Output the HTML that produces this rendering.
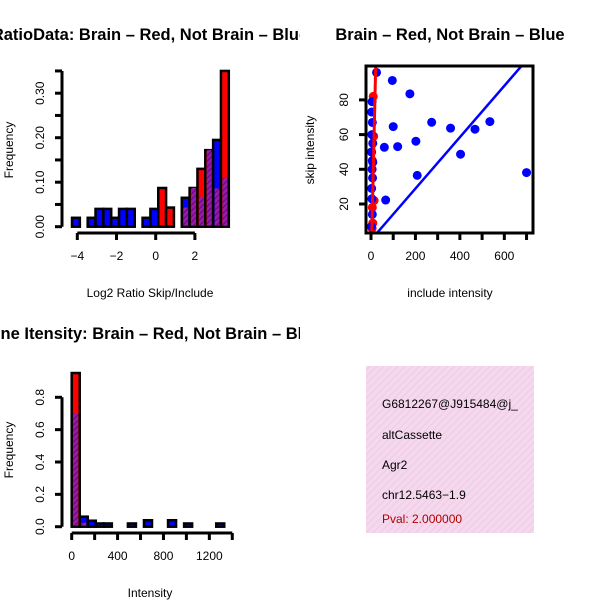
<!DOCTYPE html>
<html><head><meta charset="utf-8"><style>
html,body{margin:0;padding:0;background:#fff;}
svg{display:block;font-family:"Liberation Sans",Arial,sans-serif;}
</style></head><body>
<svg id="c" width="600" height="600" viewBox="0 0 600 600" xmlns="http://www.w3.org/2000/svg">
<defs>
<pattern id="hatch" patternUnits="userSpaceOnUse" width="4" height="4" patternTransform="rotate(45)">
<rect width="4" height="4" fill="#9a1aa6"/><line x1="0" y1="0" x2="0" y2="4" stroke="#5a0a80" stroke-width="2"/>
</pattern>
<pattern id="pink" patternUnits="userSpaceOnUse" width="5" height="5" patternTransform="rotate(45)">
<rect width="5" height="5" fill="#f7d6f0"/><line x1="0" y1="0" x2="0" y2="5" stroke="#e0d0d6" stroke-width="1.6"/>
</pattern>
<clipPath id="clip2"><rect x="366" y="66" width="167" height="167"/></clipPath>
<clipPath id="clip4"><rect x="366" y="366" width="168" height="167"/></clipPath>
<clipPath id="clipL"><rect x="0" y="0" width="300" height="600"/></clipPath>
</defs>
<g id="p1"></g>
<g id="p2"></g>
<g id="p3"></g>
<g id="p4">
<rect x="366" y="366" width="168" height="167" fill="url(#pink)"/>
<g clip-path="url(#clip4)" font-size="12">
<text x="382" y="408">G6812267@J915484@j_</text>
<text x="382" y="439">altCassette</text>
<text x="382" y="469">Agr2</text>
<text x="382" y="499">chr12.5463−1.9</text>
<text x="382" y="523" fill="#b00000">Pval: 2.000000</text>
</g>
</g>
</svg>
<script>
// Plot 1 data
const ratioBinStart = -4.27, ratioBinWidth = 0.4;
const ratioBlue = [0.02,0,0.02,0.04,0.04,0.02,0.04,0.04,0,0.02,0.04,0,0,0,0.065,0.087,0.067,0.172,0.195,0.109];
const ratioRed  = [0,0,0,0,0,0,0,0,0,0,0,0.087,0.043,0,0.043,0.087,0.13,0.172,0.086,0.35];
const ratioYTicks = [0,0.05,0.10,0.15,0.20,0.25,0.30,0.35];
const ratioYLabels = ["0.00","","0.10","","0.20","","0.30",""];
const ratioXTicks = [-4,-2,0,2];
// Plot 2 data
const scatterBlueX = [25,96,175,273,358,535,468,403,700,100,202,120,60,208,66,5,3,6,4,8,2,6,5,7,3,4,6,2,8];
const scatterBlueY = [95.8,91.2,83.5,67.1,63.7,67.5,63.1,48.7,38.1,64.6,56.2,53.1,52.7,36.5,22.3,79,73,67,60,55,50,45,40,35,29,23,14,7,44];
const scatterRedX = [10,12,14,6,8,5,3];
const scatterRedY = [82,59,22,18,9,6,50];
const blueLine = [-0.7, 0.148];
const redLine = [-16.5, 5.5];
const scatterXTicks = [0,100,200,300,400,500,600,700];
const scatterXLabels = ["0","","200","","400","","600",""];
const scatterYTicks = [20,40,60,80];
// Plot 3 data
const intBinWidth = 70;
const intBlue = [0.70,0.062,0.037,0.02,0.02,0,0,0.02,0,0.04,0,0,0.04,0,0.02,0,0,0,0.02];
const intRed  = [0.95,0.025,0,0,0,0,0,0,0,0,0,0,0,0,0,0,0,0,0];
const intYTicks = [0,0.2,0.4,0.6,0.8];
const intYLabels = ["0.0","0.2","0.4","0.6","0.8"];
const intXTicks = [0,200,400,600,800,1000,1200,1400];
const intXLabels = ["0","","400","","800","","1200",""];

const NS="http://www.w3.org/2000/svg";
function mk(parent,tag,attrs,txt){const e=document.createElementNS(NS,tag);for(const k in attrs)e.setAttribute(k,attrs[k]);if(txt!==undefined)e.textContent=txt;parent.appendChild(e);return e;}

function histogram(g, xs, ys, binStart, binW, blue, red, name){
  for(let i=0;i<blue.length;i++){
    const x0=xs(binStart+i*binW), x1=xs(binStart+(i+1)*binW);
    const b=blue[i], r=red[i], lo=Math.min(b,r), hi=Math.max(b,r);
    if(hi<=0) continue;
    const col = b>r?"#0000ff":"#ff0000";
    const o=mk(g,"rect",{x:x0,y:ys(hi),width:x1-x0,height:ys(0)-ys(hi),fill:col,stroke:"#000","stroke-width":2.5});
    
    
    if(lo>0){
      const p=mk(g,"rect",{x:x0+1.5,y:ys(lo),width:x1-x0-3,height:ys(0)-ys(lo)-1,fill:"url(#hatch)"});
      
      
    }
  }
}
function yaxis(g,x,ys,ticks,labels,name){
  const l=mk(g,"line",{x1:x,x2:x,y1:ys(ticks[0]),y2:ys(ticks[ticks.length-1]),stroke:"#000","stroke-width":3});
  
  
  ticks.forEach((t,i)=>{
    mk(g,"line",{x1:x-7,x2:x,y1:ys(t),y2:ys(t),stroke:"#000","stroke-width":3});
    if(labels[i]){const tx=mk(g,"text",{x:x-18,y:ys(t),"font-size":12,"text-anchor":"middle",transform:`rotate(-90 ${x-18} ${ys(t)})`},labels[i]);
      
      }
  });
}
function xaxis(g,y,xs,ticks,labels,name){
  const l=mk(g,"line",{x1:xs(ticks[0]),x2:xs(ticks[ticks.length-1]),y1:y,y2:y,stroke:"#000","stroke-width":3});
  
  
  ticks.forEach((t,i)=>{
    mk(g,"line",{x1:xs(t),x2:xs(t),y1:y,y2:y+7,stroke:"#000","stroke-width":3});
    if(labels[i]){const tx=mk(g,"text",{x:xs(t),y:y+27,"font-size":12,"text-anchor":"middle"},labels[i]);
      
      }
  });
}
function label(g,x,y,t,name,rot,bold,size){
  const a={x:x,y:y,"font-size":size||12,"text-anchor":"middle"};
  if(rot)a.transform=`rotate(-90 ${x} ${y})`;
  if(bold)a["font-weight"]="bold";
  const e=mk(g,"text",a,t);
  
  
  return e;
}

// Plot 1
{
  const g=document.getElementById("p1");
  const xs=v=>155.7+(v)*19.6;
  const ys=v=>226.7-v*445;
  histogram(g,xs,ys,ratioBinStart,ratioBinWidth,ratioBlue,ratioRed,"ratio");
  yaxis(g,62,ys,ratioYTicks,ratioYLabels,"ratio");
  xaxis(g,233,xs,ratioXTicks,ratioXTicks.map(String).map(s=>s.replace("-","−")),"ratio");
  const t=label(g,150,40,"RatioData: Brain – Red, Not Brain – Blue","ratio-title",false,true,16.5);
  t.setAttribute("clip-path","url(#clipL)");
  label(g,150,297,"Log2 Ratio Skip/Include","ratio-x-title");
  label(g,13,150,"Frequency","ratio-y-title",true);
}
// Plot 2
{
  const g=document.getElementById("p2");
  const xs=v=>371+v*0.2222;
  const ys=v=>238.7-v*1.735;
  const cg=mk(g,"g",{"clip-path":"url(#clip2)"});
  scatterRedX.forEach((x,i)=>{const c=mk(cg,"circle",{cx:xs(x),cy:ys(scatterRedY[i]),r:4.5,fill:"#ff0000"});
    
    });
  scatterBlueX.forEach((x,i)=>{const c=mk(cg,"circle",{cx:xs(x),cy:ys(scatterBlueY[i]),r:4.5,fill:"#0000ff"});
    
    });
  const bl=mk(cg,"line",{x1:xs(0),y1:ys(blueLine[0]),x2:xs(800),y2:ys(blueLine[0]+blueLine[1]*800),stroke:"#0000ff","stroke-width":2.5});
  
  
  const rl=mk(cg,"line",{x1:xs(0),y1:ys(redLine[0]),x2:xs(30),y2:ys(redLine[0]+redLine[1]*30),stroke:"#ff0000","stroke-width":3});
  
  
  const fr=mk(g,"rect",{x:366,y:66,width:167,height:167,fill:"none",stroke:"#000","stroke-width":3});
  
  
  scatterYTicks.forEach(t=>{mk(g,"line",{x1:359,x2:366,y1:ys(t),y2:ys(t),stroke:"#000","stroke-width":3});
    const tx=mk(g,"text",{x:348,y:ys(t),"font-size":12,"text-anchor":"middle",transform:`rotate(-90 348 ${ys(t)})`},String(t));
    
    });
  scatterXTicks.forEach((t,i)=>{mk(g,"line",{x1:xs(t),x2:xs(t),y1:233,y2:240,stroke:"#000","stroke-width":3});
    if(scatterXLabels[i]){const tx=mk(g,"text",{x:xs(t),y:260,"font-size":12,"text-anchor":"middle"},scatterXLabels[i]);
    
    }});
  label(g,450,40,"Brain – Red, Not Brain – Blue","scatter-title",false,true,16.5);
  label(g,450,297,"include intensity","scatter-x-title");
  label(g,314,150,"skip intensity","scatter-y-title",true);
}
// Plot 3
{
  const g=document.getElementById("p3");
  const xs=v=>71.7+v*0.1147;
  const ys=v=>526.7-v*161.75;
  histogram(g,xs,ys,0,intBinWidth,intBlue,intRed,"intensity");
  yaxis(g,62,ys,intYTicks,intYLabels,"intensity");
  xaxis(g,533,xs,intXTicks,intXLabels,"intensity");
  const t=label(g,150,339,"Gene Itensity: Brain – Red, Not Brain – Blue","intensity-title",false,true,16.5);
  t.setAttribute("clip-path","url(#clipL)");
  label(g,150,597,"Intensity","intensity-x-title");
  label(g,13,450,"Frequency","intensity-y-title",true);
}
</script>
</body></html>
